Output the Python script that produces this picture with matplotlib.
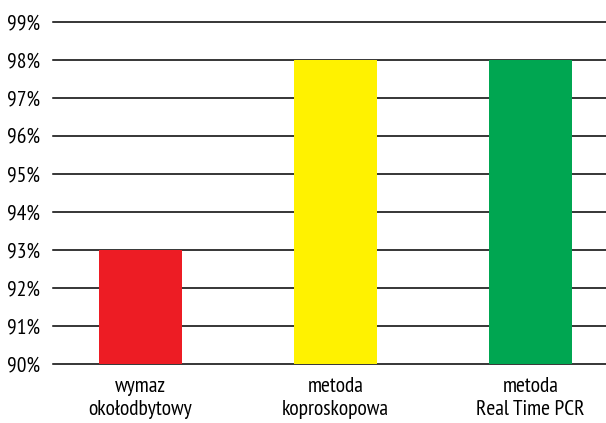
import matplotlib.pyplot as plt
from matplotlib.ticker import FuncFormatter

# Skuteczność metod wykrywania
categories = ["wymaz\nokołodbytowy", "metoda\nkoproskopowa", "metoda\nReal Time PCR"]
values = [93, 98, 98]
colors = ["#ED1C24", "#FFF200", "#00A651"]
yticks = list(range(90, 100))

plt.rcParams['font.family'] = ['PT Sans Narrow', 'DejaVu Sans']

fig = plt.figure(figsize=(6.06, 4.23), dpi=100)
ax = fig.add_axes([53 / 606, 59 / 423, 553 / 606, 342 / 423])

x = range(len(categories))
ax.bar(x, values, width=0.426, color=colors, zorder=3)

ax.set_ylim(90, 99)
ax.set_xlim(-0.449, 2.387)
ax.set_yticks(yticks)
ax.yaxis.set_major_formatter(FuncFormatter(lambda v, p: f"{int(v)}%"))
ax.grid(axis='y', color='black', linewidth=1.1, zorder=1)
for line in ax.get_ygridlines():
    line.set_clip_on(False)
ax.set_xticks(list(x))
ax.set_xticklabels(categories, fontsize=15.5, linespacing=1.3)
ax.tick_params(axis='both', length=0, labelsize=15.5)
ax.tick_params(axis='y', pad=9)
ax.tick_params(axis='x', pad=9)
for s in ax.spines.values():
    s.set_visible(False)

fig.savefig("out.png", dpi=100)
